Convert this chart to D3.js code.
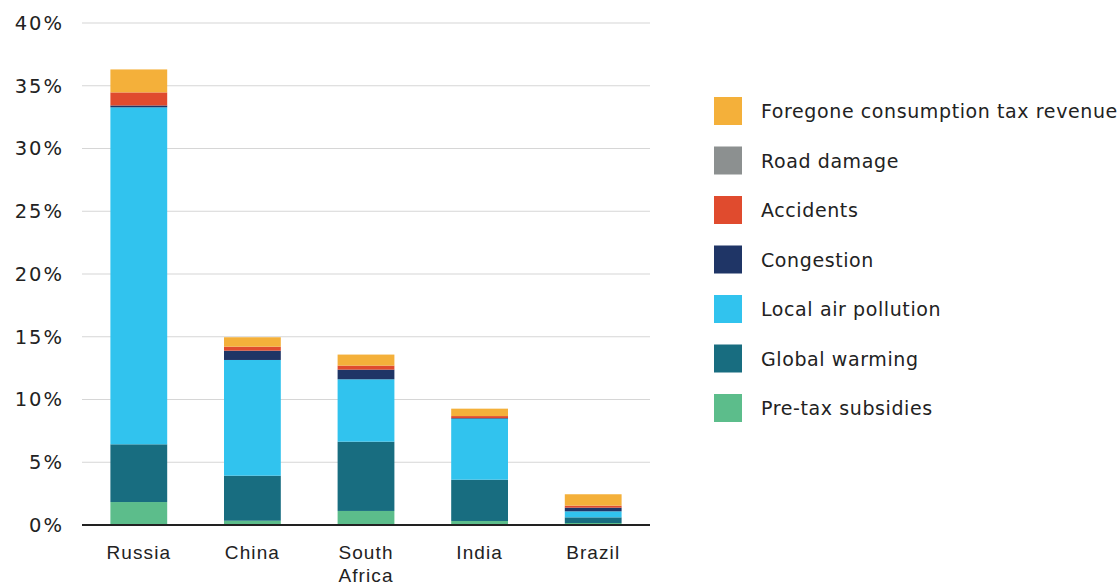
<!DOCTYPE html>
<html>
<head>
<meta charset="utf-8">
<script src="https://cdn.jsdelivr.net/npm/d3@7"></script>
<style>
html,body{margin:0;padding:0;background:#fff;}
svg{display:block;font-family:"DejaVu Sans",sans-serif;}
</style>
</head>
<body>
<svg id="chart" width="1119" height="583"></svg>
<script>
const countries = ["Russia", "China", "South Africa", "India", "Brazil"];
const seriesNames = ["Pre-tax subsidies", "Global warming", "Local air pollution", "Congestion", "Road damage", "Accidents", "Foregone consumption tax revenue"];
const seriesColors = ["#5CBD8B", "#186D80", "#31C3EE", "#1F3566", "#8C9090", "#E04B2E", "#F4B03A"];
const preTax   = [1.83, 0.34, 1.12, 0.32, 0.16];
const warming  = [4.60, 3.59, 5.52, 3.29, 0.45];
const airPoll  = [26.85, 9.22, 4.97, 4.86, 0.48];
const congest  = [0.15, 0.74, 0.77, 0.05, 0.29];
const roadDmg  = [0.00, 0.00, 0.00, 0.00, 0.00];
const accident = [1.04, 0.32, 0.32, 0.16, 0.16];
const foregone = [1.83, 0.75, 0.88, 0.59, 0.91];
const yTicks = [0, 5, 10, 15, 20, 25, 30, 35, 40];
const legendOrder = ["Foregone consumption tax revenue", "Road damage", "Accidents", "Congestion", "Local air pollution", "Global warming", "Pre-tax subsidies"];

const seriesValues = [preTax, warming, airPoll, congest, roadDmg, accident, foregone];
const table = countries.map((c, i) => {
  const row = {country: c};
  seriesNames.forEach((s, j) => row[s] = seriesValues[j][i]);
  return row;
});
const stacked = d3.stack().keys(seriesNames)(table);

const svg = d3.select("#chart");
const x = d3.scaleBand().domain(countries).range([82, 650]).paddingInner(0.5).paddingOuter(0.25);
const y = d3.scaleLinear().domain([0, 40]).range([525, 23]);
const color = d3.scaleOrdinal().domain(seriesNames).range(seriesColors);
const txt = "#222";

// gridlines
svg.append("g").selectAll("line").data(yTicks.filter(t => t > 0)).join("line")
  .attr("x1", 82).attr("x2", 650)
  .attr("y1", d => y(d)).attr("y2", d => y(d))
  .attr("stroke", "#d6d6d6").attr("stroke-width", 1.2);

// y labels
const yAxis = svg.append("g").attr("transform", "translate(64,0)")
  .call(d3.axisLeft(y).tickValues(yTicks).tickFormat(d => d + "%").tickSize(0).tickPadding(0));
yAxis.select(".domain").remove();
yAxis.selectAll("text").attr("font-size", 19.5).attr("letter-spacing", 2).attr("fill", txt)
  .attr("font-family", "DejaVu Sans, sans-serif");

// bars
svg.append("g").selectAll("g").data(stacked).join("g")
  .attr("fill", d => color(d.key))
  .selectAll("rect").data(d => d).join("rect")
  .attr("x", d => x(d.data.country))
  .attr("width", x.bandwidth())
  .attr("y", d => y(d[1]))
  .attr("height", d => Math.max(0, y(d[0]) - y(d[1])));

// x axis
const xAxis = svg.append("g").attr("transform", "translate(0,525)")
  .call(d3.axisBottom(x).tickSize(0).tickPadding(0).tickFormat(""));
xAxis.select(".domain").attr("d", "M82,0H650").attr("stroke", "#222").attr("stroke-width", 2);
xAxis.selectAll(".tick text").remove();
xAxis.selectAll(".tick").each(function(d) {
  const t = d3.select(this).append("text")
    .attr("text-anchor", "middle").attr("font-size", 19).attr("letter-spacing", 1.1).attr("fill", txt);
  d.split(" ").forEach((w, i) => {
    t.append("tspan").attr("x", 0).attr("y", 34 + i * 23).text(w);
  });
});

// legend
const lg = svg.append("g").selectAll("g").data(legendOrder).join("g")
  .attr("transform", (d, i) => `translate(714,${97 + i * 49.5})`);
lg.append("rect").attr("width", 28).attr("height", 28).attr("fill", d => color(d));
lg.append("text").attr("x", 47).attr("y", 21).attr("font-size", 19).attr("letter-spacing", 0.6)
  .attr("fill", txt).text(d => d);
</script>
</body>
</html>
